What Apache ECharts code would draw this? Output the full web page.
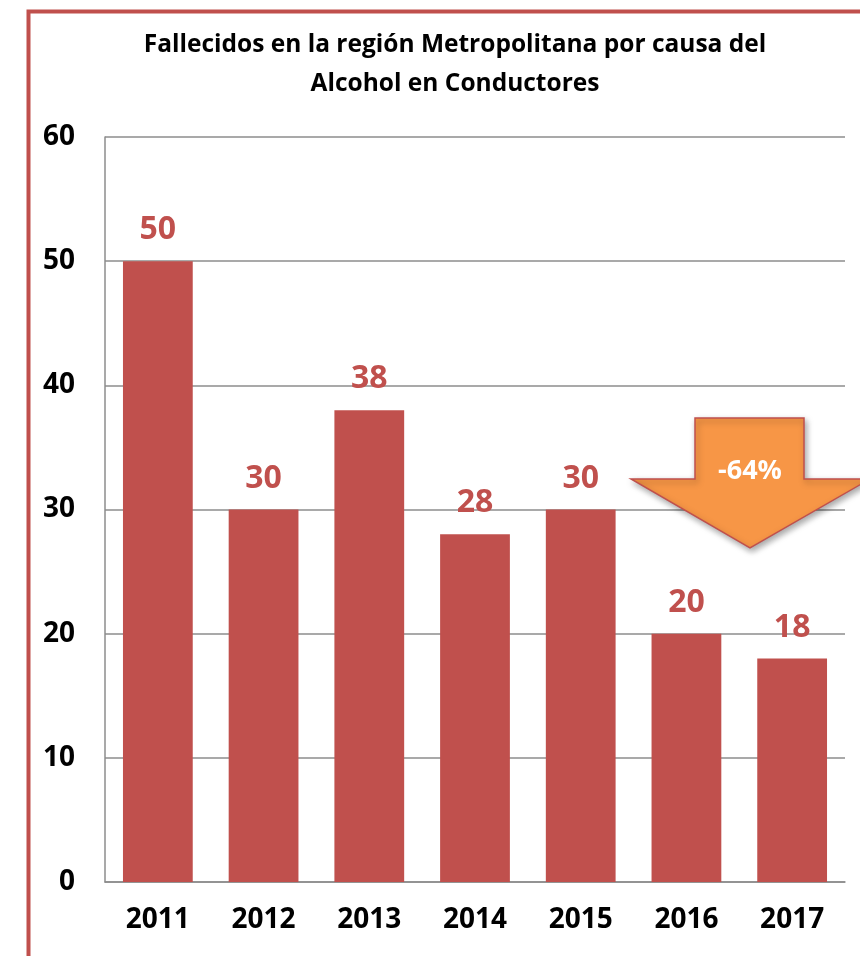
<!DOCTYPE html>
<html><head><meta charset="utf-8">
<script src="https://cdn.jsdelivr.net/npm/echarts@6/dist/echarts.min.js"></script>
<style>html,body{margin:0;padding:0;background:#fff}#c{width:860px;height:956px}</style>
</head><body><div id="c"></div>
<script>
const categories = ['2011','2012','2013','2014','2015','2016','2017'];
const values = [50, 30, 38, 28, 30, 20, 18];
const yTicks = [0, 10, 20, 30, 40, 50, 60];
const titleLines = ['Fallecidos en la región Metropolitana por causa del', 'Alcohol en Conductores'];
const arrowText = '-64%';

const FONT = '"Open Sans", "Liberation Sans", sans-serif';
const chart = echarts.init(document.getElementById('c'));
chart.setOption({
  animation: false,
  title: {
    text: titleLines.join('\n'),
    left: 450, textAlign: 'center', top: 21,
    textStyle: { fontFamily: FONT, fontWeight: 'bold', fontSize: 24.5, color: '#000', lineHeight: 39 }
  },
  grid: { left: 105, right: 15, top: 137, bottom: 74, containLabel: false },
  xAxis: {
    type: 'category', data: categories,
    axisLine: { lineStyle: { color: '#8c8c8c', width: 1.5 } },
    axisTick: { show: false },
    axisLabel: { fontFamily: FONT, fontWeight: 'bold', fontSize: 28, color: '#000', margin: 24 }
  },
  yAxis: {
    type: 'value', min: yTicks[0], max: yTicks[yTicks.length - 1], interval: 10,
    axisLine: { show: true, lineStyle: { color: '#8c8c8c', width: 1.5 } },
    axisTick: { show: false },
    splitLine: { lineStyle: { color: '#8c8c8c', width: 1.5 } },
    axisLabel: { fontFamily: FONT, fontWeight: 'bold', fontSize: 28, color: '#000', margin: 30 }
  },
  series: [{
    type: 'bar', data: values, barWidth: '66%',
    itemStyle: { color: '#C0504D' },
    label: { show: true, position: 'top', distance: 15, fontFamily: FONT, fontWeight: 'bold', fontSize: 32, color: '#C0504D' }
  }],
  graphic: [
    { type: 'rect', left: 26, top: 9, shape: { width: 900, height: 1000 }, style: { fill: 'none', stroke: '#C0504D', lineWidth: 4 }, silent: true, z: 100 },
    { type: 'polygon', shape: { points: [[695,418],[804,418],[804,479],[870,479],[750,548],[631,479],[695,479]] },
      style: { fill: '#F79646', stroke: '#C0504D', lineWidth: 1.5, shadowBlur: 6, shadowOffsetX: 2, shadowOffsetY: 3, shadowColor: 'rgba(0,0,0,0.35)' }, z: 50 },
    { type: 'text', x: 750, y: 471, style: { text: arrowText, fill: '#fff', font: 'bold 27px ' + FONT, textAlign: 'center', textVerticalAlign: 'middle' }, z: 51 }
  ]
});
</script></body></html>
